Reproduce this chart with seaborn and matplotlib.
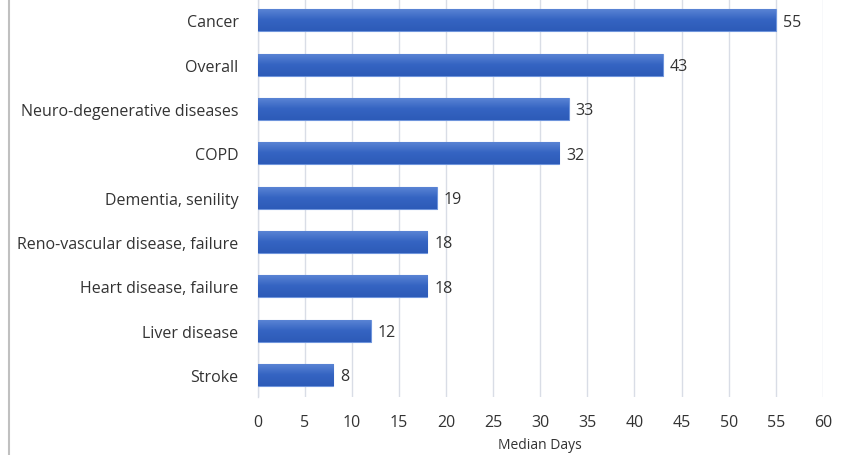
import matplotlib
matplotlib.use("Agg")
import matplotlib.pyplot as plt
import seaborn as sns
import numpy as np
import pandas as pd
from matplotlib.lines import Line2D
from matplotlib.colors import LinearSegmentedColormap

categories = ["Cancer", "Overall", "Neuro-degenerative diseases", "COPD",
              "Dementia, senility", "Reno-vascular disease, failure",
              "Heart disease, failure", "Liver disease", "Stroke"]
values = [55, 43, 33, 32, 19, 18, 18, 12, 8]
x_ticks = list(range(0, 61, 5))
x_label = "Median Days"

df = pd.DataFrame({"cat": categories, "val": values})

sns.set_theme(style="white")
plt.rcParams['font.family'] = ['Open Sans', 'DejaVu Sans']

fig = plt.figure(figsize=(8.43, 4.56), dpi=100)
ax = fig.add_axes([0.306, 0.127, 0.670, 0.875])

sns.barplot(data=df, y="cat", x="val", orient="h", color="#3a68c4",
            width=0.5, ax=ax, edgecolor="#6f95dc", linewidth=0.8, zorder=3)

# gradient overlay
cmap = LinearSegmentedColormap.from_list("g", ["#5d87d6", "#3564c2", "#2d5bb8"])
grad = np.linspace(0, 1, 100).reshape(-1, 1)
for p in ax.patches:
    x0, y0 = p.get_x(), p.get_y()
    w, h = p.get_width(), p.get_height()
    im = ax.imshow(grad, extent=[x0, x0 + w, y0 + h, y0], aspect="auto",
                   cmap=cmap, origin="upper", zorder=3.5)
    im.set_clip_path(p)

ax.set_xlim(0, 60)
ax.set_ylim(len(categories) - 0.5, -0.5)
ax.set_xticks(x_ticks)
ax.set_xticklabels([str(t) for t in x_ticks])
ax.grid(axis="x", color="#d9dde6", linewidth=1.0, zorder=0)
ax.set_axisbelow(True)
for s in ["top", "right", "bottom"]:
    ax.spines[s].set_visible(False)
ax.spines["left"].set_color("#d9dde6")
ax.spines["left"].set_linewidth(1.0)

ax.tick_params(axis="x", length=0, pad=12, labelsize=11.5, labelcolor="#333333")
ax.tick_params(axis="y", length=0, pad=14, labelsize=11.5, labelcolor="#333333")
ax.set_ylabel("")
ax.set_xlabel(x_label, fontsize=10, color="#333333", labelpad=5)

for i, v in enumerate(values):
    ax.text(v + 0.75, i + 0.03, str(v), va="center", ha="left", fontsize=11.5,
            color="#333333")

fig.add_artist(Line2D([0.0105, 0.0105], [0, 1], transform=fig.transFigure,
                      color="#c0c0c0", linewidth=1.5))

fig.savefig("out.png", dpi=100, facecolor="white")
